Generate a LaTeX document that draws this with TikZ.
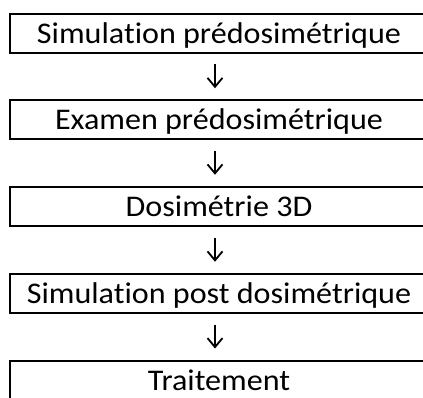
\documentclass[tikz,border=0pt]{standalone}
\usepackage{fontspec}
\setmainfont[Ligatures={NoCommon}, FakeStretch=1.07]{Carlito}
\usetikzlibrary{arrows.meta,calc}
\begin{document}
\begin{tikzpicture}[x=1pt,y=-1pt,
  stepbox/.style={draw=black, line width=2pt, minimum width=418pt, minimum height=39pt,
    inner sep=0pt, text height=24pt, text depth=4pt, font=\fontsize{30}{34}\selectfont},
  flow/.style={line width=1.8pt, -{Straight Barb[length=9pt,width=15pt,line width=1.8pt]}}]
\useasboundingbox (0,0) rectangle (423,397);
\node[stepbox] (b1) at (219,33.5) {Simulation prédosimétrique};
\node[stepbox] (b2) at (219,119) {Examen prédosimétrique};
\node[stepbox] (b3) at (219,206.5) {Dosimétrie 3D};
\node[stepbox] (b4) at (219,293) {Simulation post dosimétrique};
\node[stepbox] (b5) at (219,380) {Traitement};
\foreach \a/\b in {b1/b2,b2/b3,b3/b4,b4/b5}{
  \draw[flow] let \p1=(\a.south), \p2=(\b.north), \n1={(\y1+\y2)/2} in
    (\x1-4pt,\n1+12pt) -- (\x1-4pt,\n1-12pt);
}
\end{tikzpicture}
\end{document}
